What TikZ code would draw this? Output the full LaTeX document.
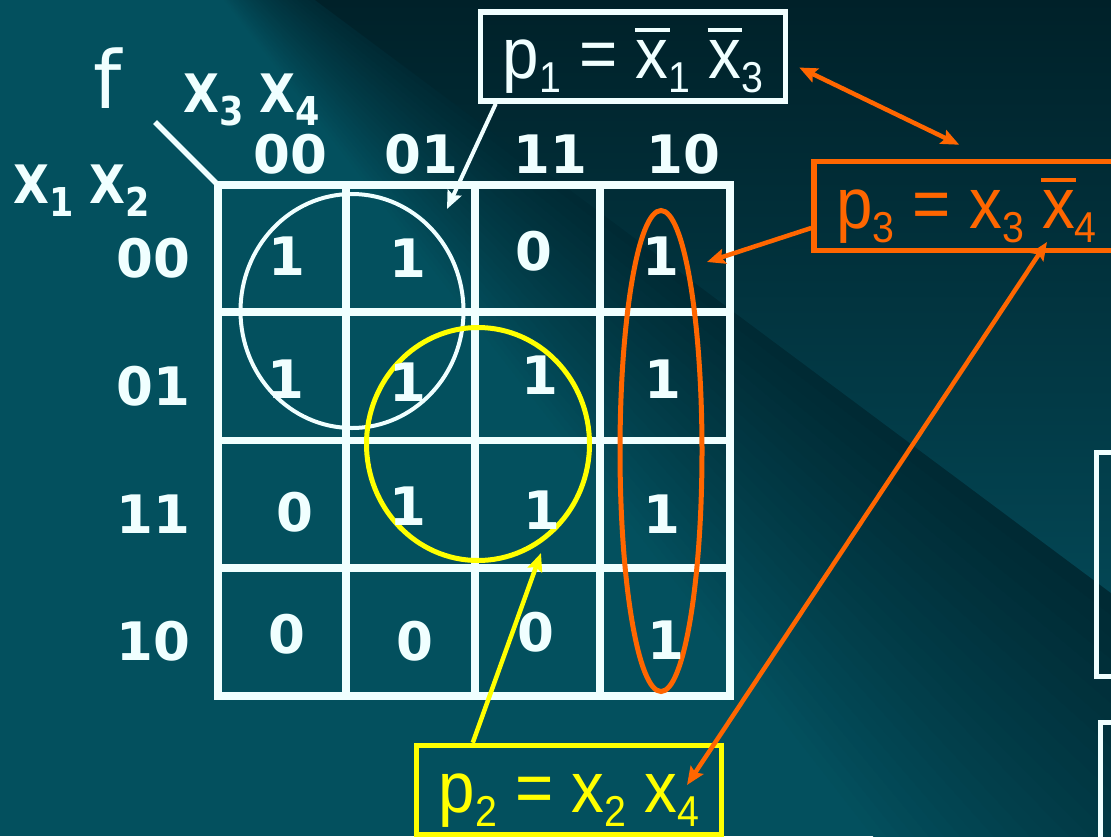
\documentclass[tikz,border=0pt]{standalone}
\usepackage{fontspec}
\setmainfont{Liberation Sans}
\newfontfamily\kmapfont{DejaVu Sans}
\usetikzlibrary{arrows.meta, calc, shapes.geometric}

\definecolor{bgteal}{RGB}{3,80,94}
\definecolor{bgtop}{RGB}{0,33,41}
\definecolor{bgmid}{RGB}{3,70,84}
\definecolor{banddark}{RGB}{0,42,52}
\definecolor{kwhite}{RGB}{240,255,255}
\definecolor{korange}{RGB}{255,102,0}
\definecolor{kyellow}{RGB}{255,255,0}

% subscripts, negated x, horizontal squeeze
\newcommand{\fsub}[1]{\raisebox{-0.2em}{\scalebox{0.6}{#1}}}
\newcommand{\lsub}[1]{\raisebox{-0.26em}{\scalebox{0.75}{#1}}}
\newcommand{\nx}{\leavevmode\rlap{\hspace{-0.015em}\raisebox{0.64em}{\rule{0.53em}{0.055em}}}x}
\newcommand{\sqz}[2][0.91]{\scalebox{#1}[1]{#2}}

\begin{document}
\begin{tikzpicture}[
  x=1pt, y=-1pt,
  kgrid/.style ={draw=kwhite, line width=7.5pt},
  val/.style   ={text=kwhite, inner sep=0pt,
                 font=\kmapfont\bfseries\fontsize{53}{64}\selectfont},
  lbl/.style   ={val, anchor=base west},
  pbox/.style  ={draw, line width=5.5pt, minimum width=305pt, minimum height=89pt,
                 text height=62pt, text depth=18pt, inner sep=0pt,
                 font=\fontsize{72}{86}\selectfont},
  grp/.style   ={draw, ellipse, inner sep=0pt},
  % pointer styles ---------------------------------------------------
  arr/.style   ={line width=4.5pt, -{Stealth[length=18pt, width=15pt, inset=3pt]}},
  darr/.style  ={line width=4.5pt, {Stealth[length=18pt, width=15pt, inset=3pt]}-{Stealth[length=18pt, width=15pt, inset=3pt]}},
]

% =========================== BACKGROUND =============================
\useasboundingbox (0,0) rectangle (1111,836);
\clip (0,0) rectangle (1111,836);
\fill[bgteal] (0,0) rectangle (1111,836);
\foreach \k in {24,23,...,0}{
  \pgfmathtruncatemacro{\mix}{100-4*\k}
  \fill[banddark!\mix!bgteal] (100,-160) -- (1111,593) -- (1111,{615+22*\k}) -- cycle;
}
\shade[top color=bgtop, bottom color=bgmid] (315,0) -- (1111,0) -- (1111,593) -- cycle;

% =========================== K-MAP GRID =============================
\draw[kgrid] (218,185) rectangle (730,696);
\draw[kgrid] (346,185) -- (346,696);
\draw[kgrid] (475,185) -- (475,696);
\draw[kgrid] (600,185) -- (600,696);
\draw[kgrid] (218,312) -- (730,312);
\draw[kgrid] (218,440.5) -- (730,440.5);
\draw[kgrid] (218,568) -- (730,568);
\draw[kgrid, line width=5.5pt] (155,122) -- (218,185);

% =========================== VARIABLES ==============================
\node[lbl, font=\kmapfont\fontsize{80}{96}\selectfont] (fn) at (93,108) {f};
\node[lbl] (colvar) at (183,112) {\sqz[0.88]{X\lsub{3} X\lsub{4}}};
\node[lbl] (rowvar) at (13,203) {\sqz[0.88]{X\lsub{1} X\lsub{2}}};

\node[val] (c00) at (290,154) {00};
\node[val] (c01) at (421,154) {01};
\node[val] (c11) at (550,154) {11};
\node[val] (c10) at (683,154) {10};

\node[val] (r00) at (153,258) {00};
\node[val] (r01) at (153,386) {01};
\node[val] (r11) at (153,514) {11};
\node[val] (r10) at (153,641) {10};

% =========================== GROUPS =================================
\node[grp, draw=kwhite,  line width=4pt, minimum width=223pt, minimum height=234pt] (g1) at (352,311) {};
\node[grp, draw=kyellow, line width=5pt, minimum width=223pt, minimum height=233pt] (g2) at (478,444) {};
\node[grp, draw=korange, line width=5pt, minimum width=82pt,  minimum height=481pt] (g3) at (661,451) {};

% =========================== CELLS ==================================
\node[val] (v0000) at (287,256) {1};
\node[val] (v0001) at (408,258) {1};
\node[val] (v0011) at (534,251) {0};
\node[val] (v0010) at (661,256) {1};

\node[val] (v0100) at (286,379) {1};
\node[val] (v0101) at (408,382) {1};
\node[val] (v0111) at (540,375) {1};
\node[val] (v0110) at (663,379) {1};

\node[val] (v1100) at (295,512) {0};
\node[val] (v1101) at (408,506) {1};
\node[val] (v1111) at (542,510) {1};
\node[val] (v1110) at (662,514) {1};

\node[val] (v1000) at (287,634) {0};
\node[val] (v1001) at (415,641) {0};
\node[val] (v1011) at (536,632) {0};
\node[val] (v1010) at (666,640) {1};

% =========================== PRODUCT TERMS ==========================
\node[pbox, draw=kwhite,  text=kwhite]  (p1) at (633,56.5) {\sqz{p\fsub{1} = \nx\fsub{1} \nx\fsub{3}}};
\node[pbox, draw=kyellow, text=kyellow] (p2) at (569,790)  {\sqz{p\fsub{2} = x\fsub{2} x\fsub{4}}};
\node[pbox, draw=korange, text=korange] (p3) at (966.5,206) {\sqz{p\fsub{3} = x\fsub{3} \nx\fsub{4}}};

% cut-off boxes at the right edge
\draw[kwhite, line width=5pt] (1096,452) rectangle (1200,676);
\draw[kwhite, line width=5pt] (1100,722) rectangle (1200,900);

% =========================== POINTERS ===============================
\coordinate (t1)  at (447,209);
\coordinate (t2)  at (541,553);
\coordinate (t4)  at (707,262);
\coordinate (t5a) at (1047,242);
\coordinate (t5b) at (687,785);

% p1 -> white group
\draw[arr, kwhite, line width=4pt] ([shift={(18,0)}]p1.south west) -- (t1);
% p2 -> yellow group
\draw[arr, kyellow] ([shift={(59,0)}]p2.north west) -- (t2);
% p1 <-> p3
\draw[darr, korange] ([shift={(11,11)}]p1.east) -- ([shift={(148,-14)}]p3.north west);
% p3 -> orange group
\draw[arr, korange] ([shift={(0,22)}]p3.west) -- (t4);
% p3 <-> p2
\draw[darr, korange] (t5a) -- (t5b);

\end{tikzpicture}
\end{document}
